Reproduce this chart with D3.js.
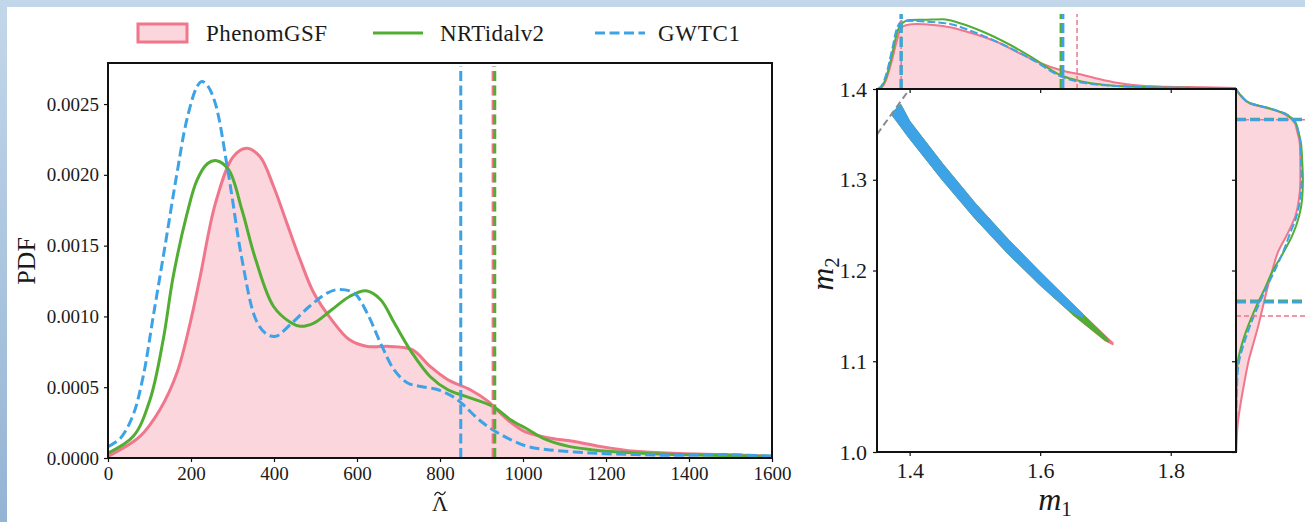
<!DOCTYPE html>
<html><head><meta charset="utf-8">
<script src="https://cdn.jsdelivr.net/npm/d3@7"></script>
<style>
html,body{margin:0;padding:0;background:#fff;}
svg{display:block;}
text{font-family:"Liberation Serif","DejaVu Serif",serif;fill:#1a1a1a;}
</style></head><body>
<svg id="c" width="1305" height="522"></svg>
<script>
// ---------------- DATA ----------------
const seriesNames = ["PhenomGSF", "NRTidalv2", "GWTC1"];
// Left panel: PDF of tilde Lambda (pdf values in units of 1e-3)
const lambdaPink = [0,77,125,166,198,222,259,302,334,366,399,431,463,496,539,582,625,679,733,776,819,873,916,959,1002,1056,1121,1185,1271,1379,1487,1600];
const pdfPink    = [0.012,0.153,0.341,0.60,0.953,1.28,1.80,2.129,2.188,2.129,1.918,1.659,1.40,1.165,0.976,0.835,0.788,0.788,0.765,0.647,0.553,0.482,0.40,0.28,0.19,0.145,0.118,0.082,0.047,0.031,0.024,0.012];
const lambdaGreen = [0,61,101,133,157,190,214,240,262,291,323,356,399,442,463,496,539,582,622,657,690,733,776,819,862,927,970,1013,1056,1110,1164,1271,1379,1600];
const pdfGreen    = [0.035,0.153,0.41,0.835,1.28,1.72,1.96,2.08,2.10,2.035,1.75,1.40,1.07,0.953,0.93,0.953,1.047,1.141,1.181,1.118,0.953,0.741,0.576,0.482,0.435,0.365,0.271,0.20,0.129,0.082,0.059,0.035,0.024,0.012];
const lambdaBlue = [0,30,60,85,109,137,165,190,214,226,240,259,291,323,356,380,404,442,485,528,555,593,625,657,690,722,754,797,830,851,894,927,970,1013,1056,1164,1271,1379,1487,1600];
const pdfBlue    = [0.08,0.14,0.30,0.58,1.0,1.49,1.99,2.39,2.62,2.66,2.63,2.50,1.99,1.40,0.98,0.88,0.86,0.95,1.07,1.165,1.19,1.165,1.02,0.81,0.62,0.53,0.505,0.48,0.435,0.39,0.27,0.20,0.13,0.08,0.06,0.035,0.024,0.019,0.024,0.012];
// 90% upper bounds of Lambda (vertical lines)
const lambdaBoundPink = 928, lambdaBoundGreen = 932, lambdaBoundBlue = 850;
const lambdaTicks = [0,200,400,600,800,1000,1200,1400,1600];
const pdfTicks = [0,0.5,1.0,1.5,2.0,2.5];

// Right panel: m1 - m2 joint band (edges of the sample band)
const bandPinkUpperM1 = [1.386,1.40,1.45,1.50,1.55,1.60,1.65,1.70,1.711];
const bandPinkUpperM2 = [1.382,1.3635,1.3170,1.2735,1.2340,1.1972,1.1618,1.1274,1.1200];
const bandPinkLowerM1 = [1.373,1.40,1.45,1.50,1.55,1.60,1.65,1.70,1.711];
const bandPinkLowerM2 = [1.3725,1.3465,1.3010,1.2585,1.2200,1.1848,1.1522,1.1230,1.1188];
const bandGreenUpperM1 = [1.386,1.40,1.45,1.50,1.55,1.60,1.65,1.70,1.704];
const bandGreenUpperM2 = [1.382,1.3635,1.3170,1.2735,1.2340,1.1972,1.1618,1.1264,1.1228];
const bandGreenLowerM1 = [1.373,1.40,1.45,1.50,1.55,1.60,1.65,1.70,1.704];
const bandGreenLowerM2 = [1.3725,1.3465,1.3010,1.2585,1.2200,1.1848,1.1522,1.1234,1.1220];
const bandBlueUpperM1 = [1.386,1.40,1.45,1.50,1.55,1.60,1.64,1.664];
const bandBlueUpperM2 = [1.382,1.3635,1.3170,1.2735,1.2340,1.1972,1.1688,1.1522];
const bandBlueLowerM1 = [1.373,1.40,1.45,1.50,1.55,1.60,1.64,1.664];
const bandBlueLowerM2 = [1.3725,1.3465,1.3010,1.2585,1.2200,1.1848,1.1592,1.1488];
const equalMassLine = [1.35, 1.40];

// Top marginal: density of m1
const m1Pink = [1.3515,1.3577,1.3638,1.373,1.3807,1.3868,1.3955,1.4108,1.4358,1.4619,1.4875,1.5125,1.5385,1.5641,1.5891,1.6151,1.6407,1.6657,1.6918,1.7174,1.7423,1.7944,1.845,1.9];
const m1PinkDen = [0,0.16,0.72,2.32,3.92,4.88,5.12,5.2,5.12,4.94,4.58,4.18,3.66,2.98,2.32,1.78,1.38,1.12,0.78,0.50,0.32,0.18,0.14,0.08];
const m1Green = [1.3515,1.3577,1.3638,1.373,1.3807,1.3868,1.4006,1.4236,1.4511,1.4772,1.5124,1.5492,1.5891,1.6305,1.6657,1.718,1.7684,1.845,1.9];
const m1GreenDen = [0,0.24,0.88,2.72,4.48,5.2,5.52,5.54,5.58,5.26,4.58,3.66,2.48,1.12,0.58,0.24,0.14,0.08,0.04];
const m1Blue = [1.3515,1.3577,1.3638,1.373,1.3807,1.3898,1.4262,1.4619,1.4971,1.5385,1.5891,1.6305,1.6657,1.718,1.7684,1.845,1.9];
const m1BlueDen = [0,0.32,1.12,3.12,4.88,5.46,5.38,5.2,4.58,3.66,2.32,1.04,0.5,0.24,0.14,0.08,0.04];
const m1BoundsPink = [1.387, 1.6565], m1BoundsGreen = [1.387, 1.632], m1BoundsBlue = [1.387, 1.6348];

// Right marginal: density of m2
const m2Grid = [1.00,1.03,1.05,1.07,1.09,1.10,1.12,1.14,1.16,1.18,1.20,1.22,1.24,1.26,1.28,1.30,1.32,1.34,1.355,1.362,1.368,1.373,1.379,1.384,1.392,1.40];
const m2PinkDen  = [0.02,0.13,0.33,0.58,0.85,1.0,1.4,1.8,2.15,2.5,2.9,3.35,4.1,4.75,5.05,5.15,5.15,5.1,4.86,4.72,4.32,3.78,2.46,1.12,0.4,0.0];
const m2GreenDen = [0.0,0.01,0.02,0.04,0.08,0.15,0.5,1.0,1.6,2.3,2.95,3.8,4.55,5.05,5.3,5.35,5.3,5.2,4.95,4.8,4.45,3.9,2.6,1.2,0.45,0.0];
const m2BlueDen  = [0.0,0.02,0.04,0.08,0.15,0.25,0.65,1.15,1.75,2.4,3.1,3.75,4.3,4.85,5.15,5.25,5.2,5.15,4.95,4.8,4.45,3.9,2.6,1.2,0.45,0.0];
const m2BoundsPink = [1.150, 1.3662], m2BoundsGreen = [1.1663, 1.3668], m2BoundsBlue = [1.1652, 1.3662];
const m1Ticks = [1.4,1.6,1.8];
const m2Ticks = [1.0,1.1,1.2,1.3,1.4];

// ---------------- STYLE ----------------
const cPink = "#f0768c", cPinkFill = "#fbd6dd", cGreen = "#52ad33", cBlue = "#3ea3e6", cGrey = "#8a8a8a";

const svg = d3.select("#c");
const defs = svg.append("defs");
const g = defs.append("linearGradient").attr("id","bg").attr("x1",0).attr("y1",0).attr("x2",0).attr("y2",1);
g.append("stop").attr("offset","0%").attr("stop-color","#c3d7ea");
g.append("stop").attr("offset","100%").attr("stop-color","#94b4d4");
svg.append("rect").attr("width",1305).attr("height",522).attr("fill","url(#bg)");
svg.append("rect").attr("x",7).attr("y",7).attr("width",1298).attr("height",515).attr("fill","#fff");

// ---------------- LEFT PANEL ----------------
const x = d3.scaleLinear().domain([0,1600]).range([108,772]);
const y = d3.scaleLinear().domain([0,2.79]).range([458,63]);
defs.append("clipPath").attr("id","clipL").append("rect").attr("x",108).attr("y",63).attr("width",664).attr("height",395);

const L = svg.append("g").attr("clip-path","url(#clipL)");
const zipL = (a,b)=>a.map((v,i)=>[v,b[i]]);
const curveL = d3.curveCatmullRom.alpha(0.5);
const lineL = d3.line().x(d=>x(d[0])).y(d=>y(d[1])).curve(curveL);
const areaL = d3.area().x(d=>x(d[0])).y0(y(0)).y1(d=>y(d[1])).curve(curveL);
const pinkPts = zipL(lambdaPink,pdfPink);
L.append("path").attr("d",areaL(pinkPts)).attr("fill",cPinkFill);
L.append("path").attr("d",lineL(pinkPts)).attr("fill","none").attr("stroke",cPink).attr("stroke-width",3);
L.append("path").attr("d",lineL(zipL(lambdaGreen,pdfGreen))).attr("fill","none").attr("stroke",cGreen).attr("stroke-width",3);
L.append("path").attr("d",lineL(zipL(lambdaBlue,pdfBlue))).attr("fill","none").attr("stroke",cBlue).attr("stroke-width",3).attr("stroke-dasharray","10,4.5");
[[lambdaBoundBlue,cBlue],[lambdaBoundPink,cPink],[lambdaBoundGreen,cGreen]].forEach(([v,c])=>{
  L.append("line").attr("x1",x(v)).attr("x2",x(v)).attr("y1",y(0)).attr("y2",y(2.79)+3)
   .attr("stroke",c).attr("stroke-width",3).attr("stroke-dasharray","10,4.5");
});

const ax = svg.append("g").attr("transform","translate(0,458)")
  .call(d3.axisBottom(x).tickValues(lambdaTicks).tickFormat(d3.format("d")).tickSize(4).tickSizeOuter(0).tickPadding(5));
const ay = svg.append("g").attr("transform","translate(108,0)")
  .call(d3.axisLeft(y).tickValues(pdfTicks).tickFormat(d=>d3.format(".4f")(d/1000)).tickSize(4).tickSizeOuter(0).tickPadding(5));
[ax,ay].forEach(a=>{a.attr("font-family",null);a.select(".domain").remove();a.selectAll("line").attr("stroke","#111").attr("stroke-width",1.2);
  a.selectAll("text").attr("font-family","Liberation Serif").attr("font-size",19).attr("fill","#1a1a1a");});
svg.append("rect").attr("x",108).attr("y",63).attr("width",664).attr("height",395).attr("fill","none").attr("stroke","#111").attr("stroke-width",2);

svg.append("text").attr("transform","translate(35,261) rotate(-90)").attr("text-anchor","middle").attr("font-size",26).text("PDF");
// x title: Lambda (text) with a tilde accent stroke above it
svg.append("text").attr("x",440).attr("y",511).attr("text-anchor","middle").attr("font-size",22).text("\u039B");
const tp = d3.path();
tp.moveTo(434.5,495.5); tp.bezierCurveTo(436.5,491.5,438.5,492,440,493.5); tp.bezierCurveTo(441.5,495,443.5,495.5,445.5,491.5);
svg.append("path").attr("d",tp.toString()).attr("fill","none").attr("stroke","#1a1a1a").attr("stroke-width",1.3);

// legend
const lg = svg.append("g");
lg.append("rect").attr("x",138).attr("y",24).attr("width",49).attr("height",18).attr("fill",cPinkFill).attr("stroke",cPink).attr("stroke-width",3);
lg.append("text").attr("x",206).attr("y",41).attr("font-size",23).attr("textLength",121).attr("lengthAdjust","spacing").text(seriesNames[0]);
lg.append("line").attr("x1",373).attr("x2",423).attr("y1",33).attr("y2",33).attr("stroke",cGreen).attr("stroke-width",3);
lg.append("text").attr("x",440).attr("y",41).attr("font-size",23).attr("textLength",104).attr("lengthAdjust","spacing").text(seriesNames[1]);
lg.append("line").attr("x1",595).attr("x2",645).attr("y1",33).attr("y2",33).attr("stroke",cBlue).attr("stroke-width",3).attr("stroke-dasharray","10,4.5");
lg.append("text").attr("x",658).attr("y",41).attr("font-size",23).attr("textLength",82).attr("lengthAdjust","spacing").text(seriesNames[2]);

// ---------------- RIGHT PANEL ----------------
const xr = d3.scaleLinear().domain([1.35,1.9]).range([877,1236]);
const yr = d3.scaleLinear().domain([1.0,1.4]).range([452,89]);
const topD = d3.scaleLinear().domain([0,6]).range([89,14]);
const rightD = d3.scaleLinear().domain([0,6]).range([1236,1311]);

// top marginal
const lineTop = d3.line().x(d=>xr(d[0])).y(d=>topD(d[1])).curve(d3.curveMonotoneX);
const areaTop = d3.area().x(d=>xr(d[0])).y0(topD(0)).y1(d=>topD(d[1])).curve(d3.curveMonotoneX);
const tPink = zipL(m1Pink,m1PinkDen);
svg.append("path").attr("d",areaTop(tPink)).attr("fill",cPinkFill);
svg.append("path").attr("d",lineTop(tPink)).attr("fill","none").attr("stroke",cPink).attr("stroke-width",2);
svg.append("path").attr("d",lineTop(zipL(m1Green,m1GreenDen))).attr("fill","none").attr("stroke",cGreen).attr("stroke-width",2);
svg.append("path").attr("d",lineTop(zipL(m1Blue,m1BlueDen))).attr("fill","none").attr("stroke",cBlue).attr("stroke-width",2).attr("stroke-dasharray","8,3");
[[m1BoundsPink,cPink,1.5,"5,3"],[m1BoundsGreen,cGreen,3,"10,4"],[m1BoundsBlue,cBlue,3,"10,4"]].forEach(([b,c,w,da])=>{
  b.forEach(v=>svg.append("line").attr("x1",xr(v)).attr("x2",xr(v)).attr("y1",topD(0)).attr("y2",topD(6))
    .attr("stroke",c).attr("stroke-width",w).attr("stroke-dasharray",da));
});

// right marginal
const lineRight = d3.line().y(d=>yr(d[0])).x(d=>rightD(d[1])).curve(d3.curveMonotoneY);
const areaRight = d3.area().y(d=>yr(d[0])).x0(rightD(0)).x1(d=>rightD(d[1])).curve(d3.curveMonotoneY);
const rPink = zipL(m2Grid,m2PinkDen);
svg.append("path").attr("d",areaRight(rPink)).attr("fill",cPinkFill);
svg.append("path").attr("d",lineRight(rPink)).attr("fill","none").attr("stroke",cPink).attr("stroke-width",2);
svg.append("path").attr("d",lineRight(zipL(m2Grid,m2GreenDen))).attr("fill","none").attr("stroke",cGreen).attr("stroke-width",2);
svg.append("path").attr("d",lineRight(zipL(m2Grid,m2BlueDen))).attr("fill","none").attr("stroke",cBlue).attr("stroke-width",2).attr("stroke-dasharray","8,3");
[[m2BoundsPink,cPink,1.5,"5,3"],[m2BoundsGreen,cGreen,3,"10,4"],[m2BoundsBlue,cBlue,3,"10,4"]].forEach(([b,c,w,da])=>{
  b.forEach(v=>svg.append("line").attr("y1",yr(v)).attr("y2",yr(v)).attr("x1",rightD(0)).attr("x2",rightD(6))
    .attr("stroke",c).attr("stroke-width",w).attr("stroke-dasharray",da));
});

// joint panel
svg.append("rect").attr("x",877).attr("y",89).attr("width",359).attr("height",363).attr("fill","#fff");
defs.append("clipPath").attr("id","clipR").append("rect").attr("x",877).attr("y",89).attr("width",359).attr("height",363);
const R = svg.append("g").attr("clip-path","url(#clipR)");
const bandPath = (um1,um2,lm1,lm2)=>{
  const pts = um1.map((v,i)=>[xr(v),yr(um2[i])]).concat(lm1.map((v,i)=>[xr(v),yr(lm2[i])]).reverse());
  return d3.line()(pts)+"Z";
};
R.append("path").attr("d",bandPath(bandPinkUpperM1,bandPinkUpperM2,bandPinkLowerM1,bandPinkLowerM2)).attr("fill",cPink).attr("stroke",cPink).attr("stroke-width",2).attr("stroke-linejoin","round");
R.append("path").attr("d",bandPath(bandGreenUpperM1,bandGreenUpperM2,bandGreenLowerM1,bandGreenLowerM2)).attr("fill",cGreen).attr("stroke",cGreen).attr("stroke-width",2).attr("stroke-linejoin","round");
R.append("path").attr("d",bandPath(bandBlueUpperM1,bandBlueUpperM2,bandBlueLowerM1,bandBlueLowerM2)).attr("fill",cBlue).attr("stroke",cBlue).attr("stroke-width",2).attr("stroke-linejoin","round");
R.append("line").attr("x1",xr(equalMassLine[0])).attr("y1",yr(equalMassLine[0])).attr("x2",xr(equalMassLine[1])).attr("y2",yr(equalMassLine[1]))
  .attr("stroke",cGrey).attr("stroke-width",2).attr("stroke-dasharray","7,4");

const axr = svg.append("g").attr("transform","translate(0,452)")
  .call(d3.axisBottom(xr).tickValues(m1Ticks).tickFormat(d3.format(".1f")).tickSize(4).tickSizeOuter(0).tickPadding(6));
const ayr = svg.append("g").attr("transform","translate(877,0)")
  .call(d3.axisLeft(yr).tickValues(m2Ticks).tickFormat(d3.format(".1f")).tickSize(4).tickSizeOuter(0).tickPadding(6));
const axrTop = svg.append("g").attr("transform","translate(0,89)")
  .call(d3.axisBottom(xr).tickValues(m1Ticks).tickFormat("").tickSize(4).tickSizeOuter(0));
const ayrRight = svg.append("g").attr("transform","translate(1236,0)")
  .call(d3.axisLeft(yr).tickValues(m2Ticks).tickFormat("").tickSize(4).tickSizeOuter(0));
[axr,ayr,axrTop,ayrRight].forEach(a=>{a.attr("font-family",null);a.select(".domain").remove();a.selectAll("line").attr("stroke","#111").attr("stroke-width",1.2);
  a.selectAll("text").attr("font-family","Liberation Serif").attr("font-size",22).attr("fill","#1a1a1a");});
svg.append("rect").attr("x",877).attr("y",89).attr("width",359).attr("height",363).attr("fill","none").attr("stroke","#111").attr("stroke-width",2);

const m1t = svg.append("text").attr("x",1055).attr("y",510).attr("text-anchor","middle").attr("font-size",32);
m1t.append("tspan").attr("font-style","italic").text("m");
m1t.append("tspan").attr("font-size",21).attr("dy",6).text("1");
const m2t = svg.append("text").attr("transform","translate(833,274) rotate(-90)").attr("text-anchor","middle").attr("font-size",32);
m2t.append("tspan").attr("font-style","italic").text("m");
m2t.append("tspan").attr("font-size",21).attr("dy",6).text("2");
</script>
</body></html>
